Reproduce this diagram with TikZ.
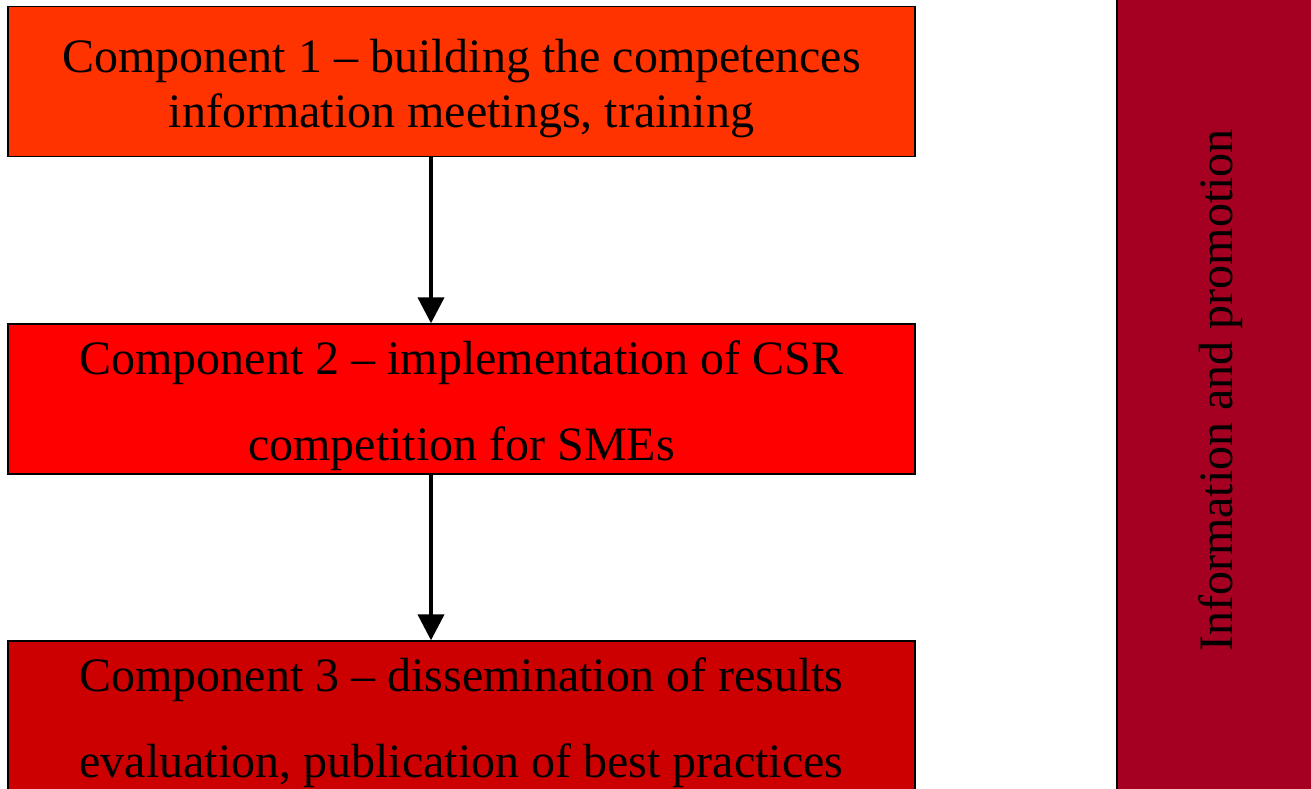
\documentclass[tikz,border=0pt]{standalone}
\usepackage{fontspec}
\setmainfont{Liberation Serif}
\usetikzlibrary{positioning, arrows.meta}
\definecolor{compone}{HTML}{FF3300}
\definecolor{comptwo}{HTML}{FF0000}
\definecolor{compthree}{HTML}{CC0000}
\definecolor{promo}{HTML}{A50021}

\begin{document}
\begin{tikzpicture}[
        x=0.75pt, y=-0.75pt,
        compbox/.style={rectangle, draw=black, line width=1pt, minimum width=907*0.75pt,
            minimum height=150*0.75pt, inner sep=0pt, align=center, text depth=0pt},
        tight/.style={font=\fontsize{36}{41.25}\selectfont, text height=68.25pt},
        loose/.style={font=\fontsize{36}{64.5}\selectfont, text height=91.5pt},
        flow/.style={line width=3pt, -{Triangle[width=19.5pt, length=19.5pt]}}
    ]
    \useasboundingbox (0,0) rectangle (1311,789);
    \clip (0,0) rectangle (1311,789);
    \node[compbox, tight, fill=compone] (C1) at (461.5,81.5) {Component 1 -- building the competences\\information meetings, training};
    \node[compbox, loose, fill=comptwo] (C2) at (461.5,399) {Component 2 -- implementation of CSR\\competition for SMEs};
    \node[compbox, loose, fill=compthree] (C3) at (461.5,716) {Component 3 -- dissemination of results\\evaluation, publication of best practices};
    \node[rectangle, draw=black, line width=1pt, fill=promo, rotate=90, minimum width=805*0.75pt,
        minimum height=208*0.75pt, font=\fontsize{36}{41}\selectfont] (Promo) at (1221,390.5) {Information and promotion};
    \coordinate (ax) at (431,0);
    \draw[flow] (C1.south -| ax) -- (C2.north -| ax);
    \draw[flow] (C2.south -| ax) -- (C3.north -| ax);
\end{tikzpicture}
\end{document}
